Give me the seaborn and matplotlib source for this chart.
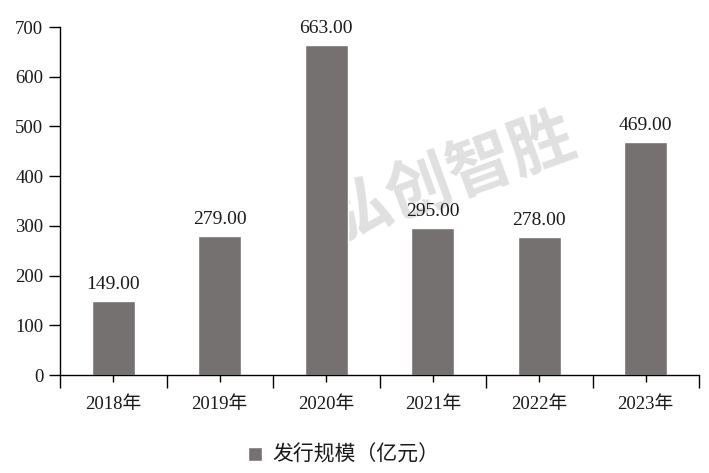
import matplotlib
matplotlib.use("Agg")
import matplotlib.pyplot as plt
import numpy as np
import pandas as pd
import seaborn as sns

years = ["2018年", "2019年", "2020年", "2021年", "2022年", "2023年"]
issue_size = [149.00, 279.00, 663.00, 295.00, 278.00, 469.00]
series_name = "发行规模（亿元）"
watermark = "弘创智胜"

sns.set_theme(style="white")
plt.rcParams["font.family"] = ["Liberation Serif", "Noto Sans CJK SC", "DejaVu Sans"]
plt.rcParams["axes.unicode_minus"] = False

bar_color = "#767171"
text_color = "#1a1a1a"

df = pd.DataFrame({"year": years, "value": issue_size})

fig = plt.figure(figsize=(7.09, 4.73), dpi=100)
ax = fig.add_axes([60 / 709, 98 / 473, 639 / 709, 348 / 473])
ax.patch.set_alpha(0)

# watermark, kept behind the axes
fig.text(0.635, 0.625, watermark, rotation=20, fontsize=47, fontweight="bold",
         color="#e0e0e0", ha="center", va="center", zorder=-5,
         family=["Noto Sans CJK SC", "DejaVu Sans"])

sns.barplot(data=df, x="year", y="value", color=bar_color, saturation=1,
            width=0.4, label=series_name, ax=ax, zorder=2)

for i, v in enumerate(issue_size):
    ax.text(i, v + 16, f"{v:.2f}", ha="center", va="bottom",
            fontsize=14, color=text_color)

ax.set_xlim(-0.5, len(years) - 0.5)
ax.set_ylim(0, 700)
ax.set_yticks(np.arange(0, 701, 100))
ax.set_xlabel("")
ax.set_ylabel("")

ax.set_xticks(range(len(years)))
ax.set_xticklabels(years)
ax.set_xticks(np.arange(-0.5, len(years), 1.0), minor=True)
ax.tick_params(axis="x", which="major", direction="out", length=5, width=1,
               color="black", labelsize=13.5, labelcolor=text_color, pad=10)
ax.tick_params(axis="x", which="minor", direction="out", length=9, width=1,
               color="black")
ax.tick_params(axis="y", direction="out", length=8, width=1, color="black",
               labelsize=13.5, labelcolor=text_color, pad=4)
ax.tick_params(bottom=True, left=True, which="both")
ax.tick_params(axis="y", which="minor", left=False)

for side in ["top", "right"]:
    ax.spines[side].set_visible(False)
for side in ["left", "bottom"]:
    ax.spines[side].set_color("black")
    ax.spines[side].set_linewidth(1)
ax.grid(False)

fig.legend(*ax.get_legend_handles_labels(), loc="center",
           bbox_to_anchor=(0.485, 0.036), frameon=False,
           fontsize=15, handlelength=0.7, handleheight=0.7, handletextpad=0.5,
           labelcolor=text_color)
if ax.get_legend() is not None:
    ax.get_legend().remove()

fig.savefig("out.png", dpi=100)
